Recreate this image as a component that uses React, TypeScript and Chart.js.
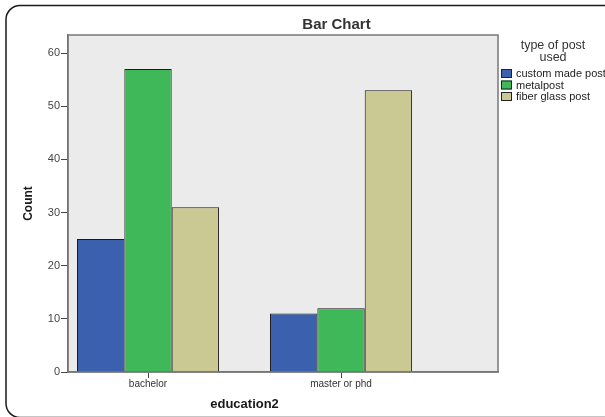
import React, { useEffect, useRef } from "react";
import { Chart, registerables } from "chart.js";

Chart.register(...registerables);

const categories = ["bachelor", "master or phd"];
const seriesNames = ["custom made post", "metalpost", "fiber glass post"];
const customMadePost = [25, 11];
const metalPost = [57, 12];
const fiberGlassPost = [31, 53];
const yTickValues = [0, 10, 20, 30, 40, 50, 60];
const chartTitle = "Bar Chart";
const legendTitle = ["type of post", "used"];
const xAxisTitle = "education2";
const yAxisTitle = "Count";
const seriesColors = ["#3b60ad", "#3fb85a", "#cbc993"];

const FONT = "'Liberation Sans', Arial, sans-serif";

const decorPlugin = {
  id: "decor",
  beforeDraw(chart: any) {
    const { ctx, chartArea: a } = chart;
    ctx.save();
    ctx.fillStyle = "#ffffff";
    ctx.fillRect(0, 0, chart.width, chart.height);
    ctx.strokeStyle = "#1a1a1a";
    ctx.lineWidth = 1.5;
    ctx.beginPath();
    ctx.roundRect(6, 5.5, 640, 412, 14);
    ctx.stroke();
    ctx.fillStyle = "#ebebeb";
    ctx.fillRect(a.left, a.top, a.right - a.left, a.bottom - a.top);
    ctx.restore();
  },
  afterDatasetsDraw(chart: any) {
    const { ctx, chartArea: a } = chart;
    ctx.save();
    ctx.strokeStyle = "#777777";
    ctx.lineWidth = 1.5;
    ctx.strokeRect(a.left, a.top, a.right - a.left, a.bottom - a.top);
    ctx.restore();
  },
  afterDraw(chart: any) {
    const { ctx, chartArea: a } = chart;
    const xs = chart.scales.x;
    ctx.save();
    // title
    ctx.fillStyle = "#333333";
    ctx.font = `bold 15px ${FONT}`;
    ctx.textAlign = "center";
    ctx.textBaseline = "middle";
    ctx.fillText(chartTitle, (a.left + chart.width) / 2, 25);
    // x title
    ctx.fillStyle = "#1a1a1a";
    ctx.font = `bold 13px ${FONT}`;
    const mid = (xs.getPixelForValue(0) + xs.getPixelForValue(categories.length - 1)) / 2;
    ctx.fillText(xAxisTitle, mid, 404);
    // legend
    ctx.fillStyle = "#333333";
    ctx.font = `12.5px ${FONT}`;
    legendTitle.forEach((t, i) => ctx.fillText(t, a.right + 55, 46 + i * 11.5));
    ctx.font = `11px ${FONT}`;
    ctx.textAlign = "left";
    seriesNames.forEach((name, i) => {
      const cy = 73.5 + i * 11.5;
      ctx.fillStyle = seriesColors[i];
      ctx.fillRect(a.right + 3, cy - 4.5, 11, 9);
      ctx.strokeStyle = "#222222";
      ctx.lineWidth = 1;
      ctx.strokeRect(a.right + 3.5, cy - 4, 10, 8);
      ctx.fillStyle = "#222222";
      ctx.fillText(name, a.right + 18, cy + 0.5);
    });
    ctx.restore();
  },
};

export default function App() {
  const ref = useRef<HTMLCanvasElement | null>(null);
  useEffect(() => {
    if (!ref.current) return;
    const series = [customMadePost, metalPost, fiberGlassPost];
    const chart = new Chart(ref.current, {
      type: "bar",
      data: {
        datasets: series.map((vals, si) => ({
          label: seriesNames[si],
          data: vals.map((y, i) => ({ x: i, y })),
          backgroundColor: seriesColors[si],
          borderColor: "#1a1a1a",
          borderWidth: 1,
          categoryPercentage: 0.736,
          barPercentage: 1,
        })),
      },
      options: {
        animation: false,
        responsive: false,
        devicePixelRatio: 1,
        layout: { padding: { left: 8, top: 35, right: 107, bottom: 0 } },
        plugins: {
          legend: { display: false },
          title: { display: false },
          tooltip: { enabled: false },
        },
        scales: {
          x: {
            type: "linear",
            min: -0.4145,
            max: 1.813,
            offset: false,
            afterBuildTicks: (s: any) => {
              s.ticks = categories.map((_, i) => ({ value: i }));
            },
            afterFit: (s: any) => {
              s.height = 45;
            },
            grid: {
              display: true,
              offset: false,
              drawOnChartArea: false,
              drawTicks: true,
              tickLength: 6,
              color: "#444444",
            },
            border: { display: true, color: "#6e6e6e", width: 1.5 },
            ticks: {
              padding: 0,
              color: "#333333",
              font: { family: FONT, size: 10 },
              maxRotation: 0,
              callback: (v: any) => categories[Math.round(Number(v))] ?? "",
            },
          },
          y: {
            min: 0,
            max: 63.4,
            afterBuildTicks: (s: any) => {
              s.ticks = yTickValues.map((v) => ({ value: v }));
            },
            afterFit: (s: any) => {
              s.width = 60;
            },
            grid: {
              display: true,
              offset: false,
              drawOnChartArea: false,
              drawTicks: true,
              tickLength: 7,
              color: "#444444",
            },
            border: { display: true, color: "#6e6e6e", width: 1.5 },
            ticks: {
              padding: 1,
              color: "#444444",
              font: { family: FONT, size: 11 },
            },
            title: {
              display: true,
              text: yAxisTitle,
              color: "#1a1a1a",
              font: { family: FONT, size: 12, weight: "bold" },
              padding: { top: 13, bottom: 0 },
            },
          },
        },
      },
      plugins: [decorPlugin],
    } as any);
    return () => chart.destroy();
  }, []);
  return (
    <div style={{ position: "absolute", left: 0, top: 0, width: 605, height: 417 }}>
      <canvas ref={ref} width={605} height={417} style={{ display: "block" }} />
    </div>
  );
}
